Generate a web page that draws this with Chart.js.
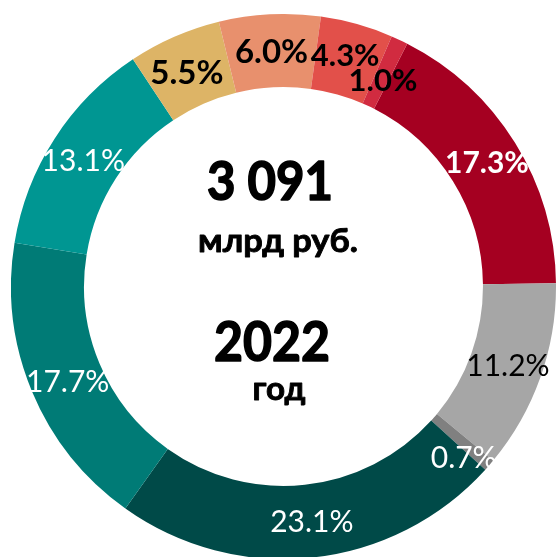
<!DOCTYPE html>
<html>
<head>
<meta charset="utf-8">
<script src="https://cdn.jsdelivr.net/npm/chart.js@4.4.1/dist/chart.umd.min.js"></script>
<style>
  html, body { margin: 0; padding: 0; background: #ffffff; width: 556px; height: 557px; overflow: hidden; }
  #wrap { position: absolute; left: 11px; top: 14px; width: 545px; height: 545px; }
</style>
</head>
<body>
<div id="wrap"><canvas id="c" width="545" height="545"></canvas></div>
<script>
// ---- data ----
const categories = ['Сегмент 1', 'Сегмент 2', 'Сегмент 3', 'Сегмент 4', 'Сегмент 5',
                    'Сегмент 6', 'Сегмент 7', 'Сегмент 8', 'Сегмент 9', 'Сегмент 10'];
const shares = [17.3, 11.2, 0.7, 23.1, 17.7, 13.1, 5.5, 6.0, 4.3, 1.0];
const shareLabels = ['17.3%', '11.2%', '0.7%', '23.1%', '17.7%', '13.1%', '5.5%', '6.0%', '4.3%', '1.0%'];
const totalValue = '3 091';
const totalUnit = 'млрд руб.';
const yearValue = '2022';
const yearUnit = 'год';

// ---- styles ----
const sliceColors = ['#A50021', '#A6A6A6', '#808080', '#004A48', '#007B76',
                     '#009692', '#DDB466', '#E8906D', '#E2504A', '#D12B40'];
const labelColors = ['#ffffff', '#000000', '#ffffff', '#ffffff', '#ffffff',
                     '#ffffff', '#000000', '#000000', '#000000', '#000000'];
const labelBold = [true, false, false, false, false, false, true, true, true, true];
const labelSize = [30, 30, 30, 30, 30, 30, 33, 33, 31, 31];
const labelDy = [0, 0, 16, 0, 4, 2, 2, 0, -4, 7];
const labelDx = [3, 2, 2, 3, 2, -2, -2, 0, -2, -1];

function fitText(ctx, text, x, y, font, targetW, stroke) {
  ctx.font = font;
  const w = ctx.measureText(text).width;
  const sx = targetW / w;
  ctx.save();
  ctx.translate(x, y);
  ctx.scale(sx, 1);
  ctx.fillText(text, 0, 0);
  if (stroke) {
    ctx.lineWidth = stroke;
    ctx.lineJoin = 'round';
    ctx.strokeText(text, 0, 0);
  }
  ctx.restore();
}

const labelPlugin = {
  id: 'sliceLabels',
  afterDatasetsDraw(chart) {
    const ctx = chart.ctx;
    const meta = chart.getDatasetMeta(0);
    ctx.save();
    ctx.textAlign = 'center';
    ctx.textBaseline = 'alphabetic';
    meta.data.forEach((arc, i) => {
      const p = arc.tooltipPosition();
      const size = labelSize[i];
      ctx.font = (labelBold[i] ? 'bold ' : '') + size + 'px Lato';
      ctx.fillStyle = labelColors[i];
      ctx.fillText(shareLabels[i], p.x + labelDx[i], p.y + labelDy[i] + 0.358 * size);
    });
    // centre texts (canvas offset: page x - 11, page y - 14)
    ctx.fillStyle = '#000000';
    ctx.strokeStyle = '#000000';
    fitText(ctx, totalValue, 270 - 11, 200 - 14, 'bold 54px Lato', 126, 1.6);
    fitText(ctx, totalUnit, 278 - 11, 252 - 14, 'bold 33px Lato', 160, 0.9);
    fitText(ctx, yearValue, 272 - 11, 361 - 14, 'bold 56px Lato', 116, 1.6);
    fitText(ctx, yearUnit, 279 - 11, 400 - 14, 'bold 33px Lato', 53, 0.9);
    ctx.restore();
  }
};

new Chart(document.getElementById('c'), {
  type: 'doughnut',
  data: {
    labels: categories,
    datasets: [{
      data: shares,
      backgroundColor: sliceColors,
      borderWidth: 0,
      hoverOffset: 0
    }]
  },
  options: {
    responsive: false,
    animation: false,
    rotation: 27,
    cutout: '73.2%',
    layout: { padding: 0 },
    plugins: {
      legend: { display: false },
      tooltip: { enabled: false }
    }
  },
  plugins: [labelPlugin]
});
</script>
</body>
</html>
